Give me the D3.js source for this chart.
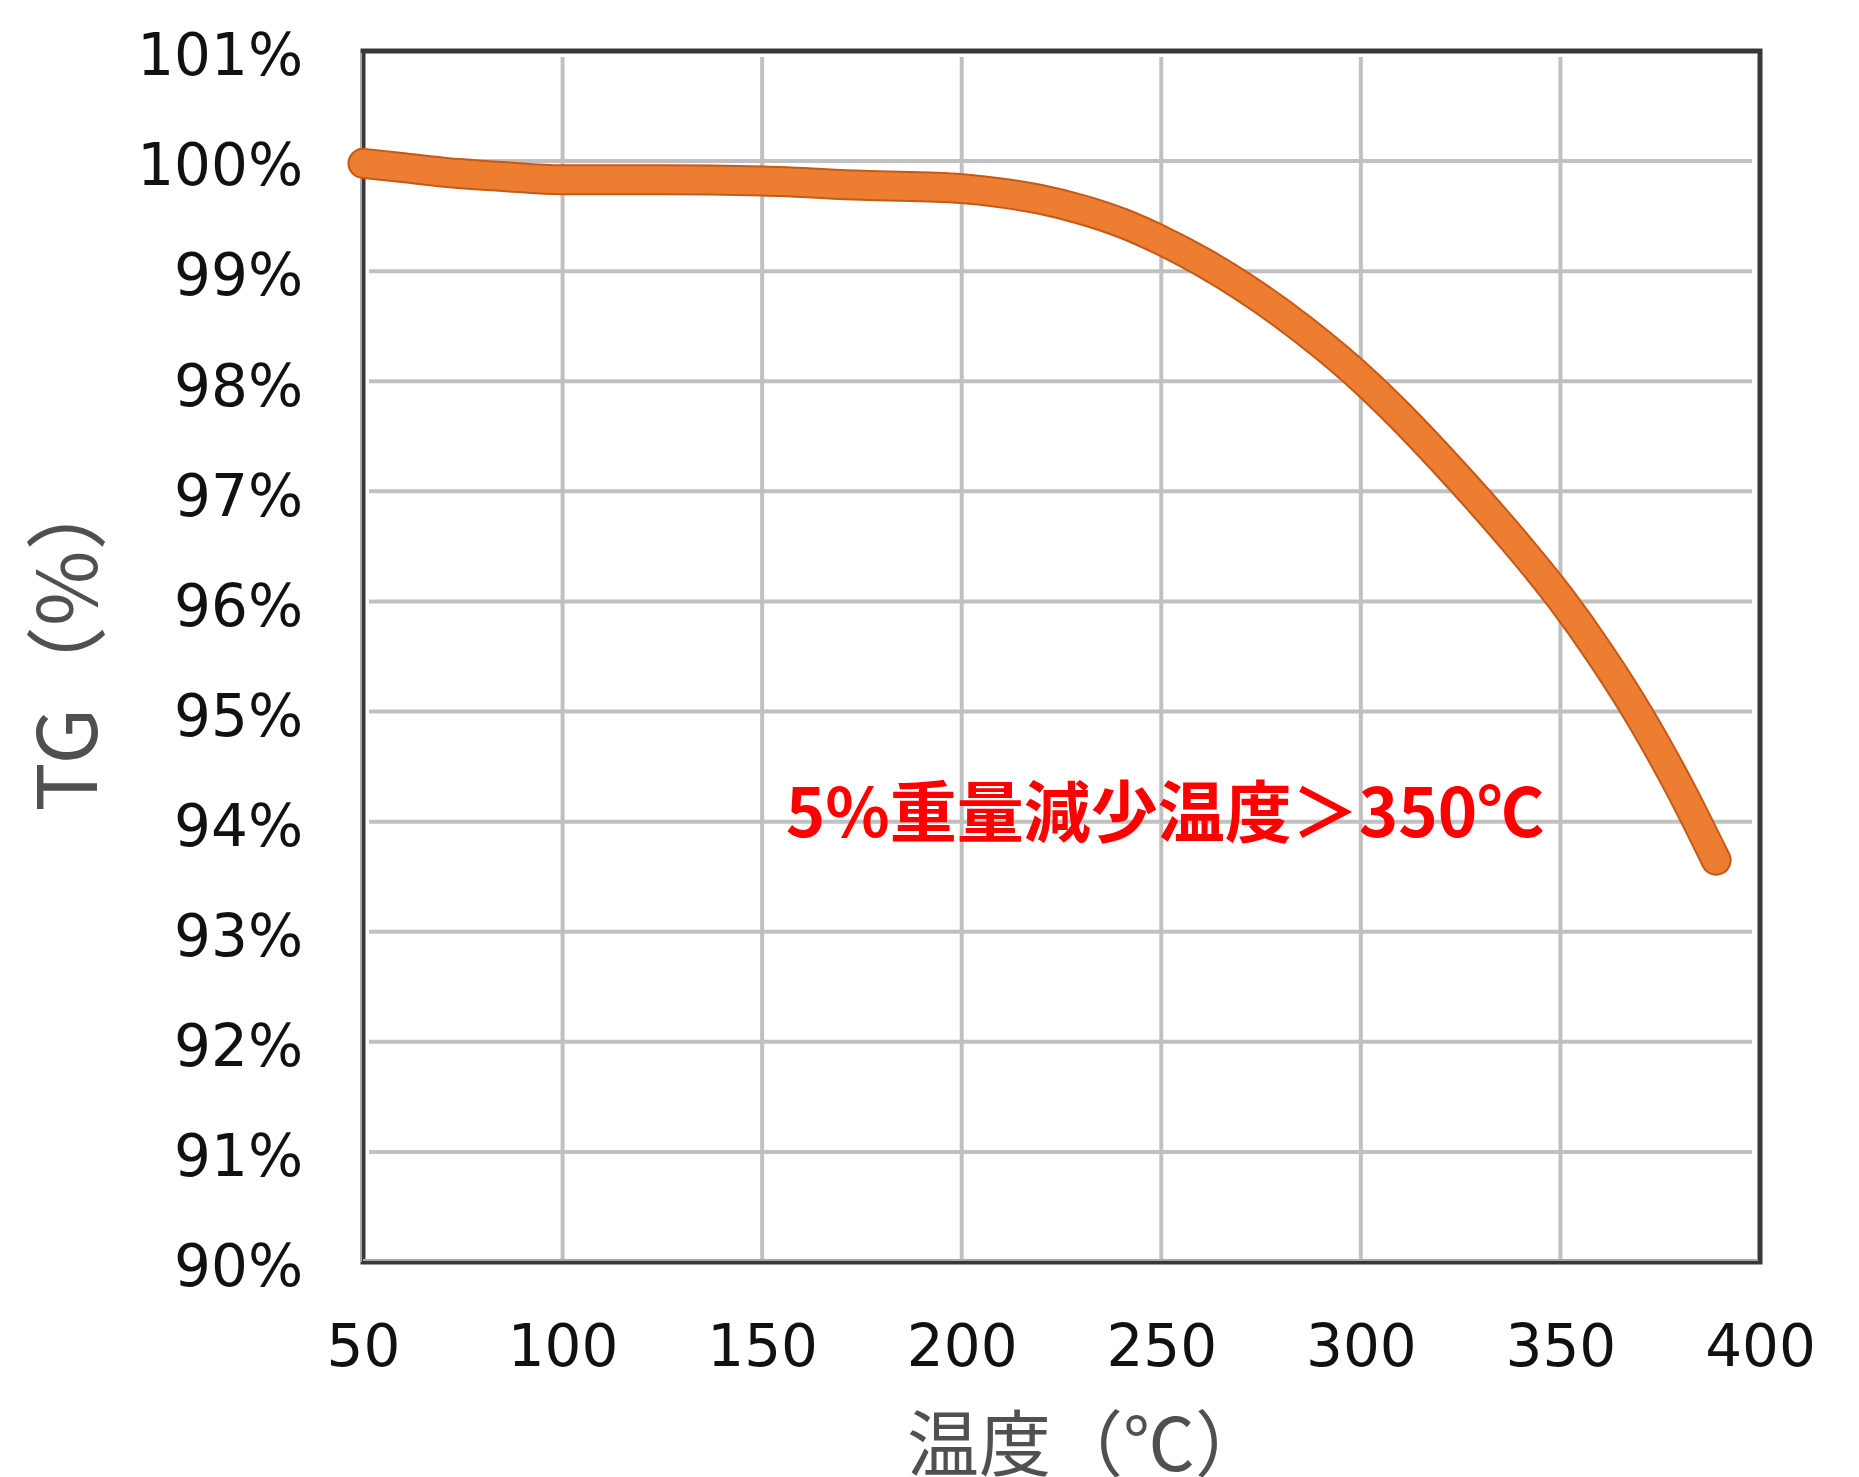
<!DOCTYPE html>
<html>
<head>
<meta charset="utf-8">
<script src="https://cdn.jsdelivr.net/npm/d3@7"></script>
<style>
  html, body { margin: 0; padding: 0; background: #ffffff; }
  svg { display: block; }
</style>
</head>
<body>
<svg id="chart" width="1859" height="1477"></svg>
<script>
// ---- data ----
const temps = [50, 60, 70, 85, 100, 125, 150, 175, 200, 210, 220, 230, 240, 250, 260, 270, 280, 290, 300, 310, 320, 330, 340, 350, 360, 370, 380, 389];
const tgValues = [99.98, 99.94, 99.90, 99.86, 99.83, 99.83, 99.82, 99.78, 99.75, 99.71, 99.65, 99.56, 99.44, 99.28, 99.09, 98.87, 98.62, 98.34, 98.03, 97.68, 97.30, 96.90, 96.48, 96.03, 95.52, 94.95, 94.30, 93.65];
const xTicks = [50, 100, 150, 200, 250, 300, 350, 400];
const yTicks = [90, 91, 92, 93, 94, 95, 96, 97, 98, 99, 100, 101];
const xTitle = "温度（℃）";
const yTitle = "TG（%）";
const annotation = "5%重量減少温度＞350℃";

// ---- layout ----
const L = 363, R = 1760, T = 51, B = 1262;
const svg = d3.select("#chart");
svg.append("rect").attr("width", 1859).attr("height", 1477).attr("fill", "#fff");

const x = d3.scaleLinear().domain([50, 400]).range([L, R]);
const y = d3.scaleLinear().domain([90, 101]).range([B, T]);

// grid
const grid = svg.append("g").attr("stroke", "#c0c0c0").attr("stroke-width", 4);
grid.selectAll("line.v").data(xTicks.slice(1, -1)).join("line")
  .attr("x1", d => x(d)).attr("x2", d => x(d))
  .attr("y1", T + 6).attr("y2", B - 3);
grid.selectAll("line.h").data(yTicks.slice(1, -1)).join("line")
  .attr("x1", L + 6).attr("x2", R - 8)
  .attr("y1", d => y(d)).attr("y2", d => y(d));

// frame
svg.append("rect")
  .attr("x", L).attr("y", T).attr("width", R - L).attr("height", B - T)
  .attr("fill", "none").attr("stroke", "#383838").attr("stroke-width", 5);
svg.append("line").attr("x1", L - 2).attr("x2", L - 2).attr("y1", T + 2).attr("y2", B)
  .attr("stroke", "#a8a8a8").attr("stroke-width", 2);
svg.append("line").attr("x1", L).attr("x2", R - 2).attr("y1", B - 2).attr("y2", B - 2)
  .attr("stroke", "#a8a8a8").attr("stroke-width", 2);

// axes (labels only)
const xAxis = svg.append("g").attr("transform", `translate(0,${B})`)
  .call(d3.axisBottom(x).tickValues(xTicks).tickFormat(d3.format("d")).tickSize(0).tickPadding(63));
const yAxis = svg.append("g").attr("transform", `translate(${L},0)`)
  .call(d3.axisLeft(y).tickValues(yTicks).tickFormat(d => d + "%").tickSize(0).tickPadding(60));
[xAxis, yAxis].forEach(g => {
  g.select(".domain").remove();
  g.selectAll("text")
    .attr("font-family", "'DejaVu Sans', Verdana, sans-serif")
    .attr("font-size", 58)
    .attr("fill", "#111");
});
yAxis.selectAll("text").attr("dy", "0.41em");

// curve
const line = d3.line().x((d, i) => x(temps[i])).y(d => y(d)).curve(d3.curveMonotoneX);
svg.append("path").datum(tgValues).attr("d", line)
  .attr("fill", "none").attr("stroke", "#c45a17").attr("stroke-width", 31)
  .attr("stroke-linecap", "round").attr("stroke-linejoin", "round");
svg.append("path").datum(tgValues).attr("d", line)
  .attr("fill", "none").attr("stroke", "#ed7d31").attr("stroke-width", 27)
  .attr("stroke-linecap", "round").attr("stroke-linejoin", "round");

// annotation
svg.append("text").attr("x", 1165).attr("y", 837)
  .attr("text-anchor", "middle")
  .attr("font-family", "'Noto Sans CJK JP', sans-serif")
  .attr("font-weight", "bold").attr("font-size", 67)
  .attr("fill", "#ff0000").text(annotation);

// axis titles
svg.append("text").attr("x", 1087).attr("y", 1470)
  .attr("text-anchor", "middle")
  .attr("font-family", "'Noto Sans CJK JP', sans-serif")
  .attr("font-size", 72).attr("fill", "#505050").text(xTitle);
svg.append("text")
  .attr("transform", `translate(97,640) rotate(-90)`)
  .attr("text-anchor", "middle")
  .attr("font-family", "'Noto Sans CJK JP', sans-serif")
  .attr("font-size", 82).attr("fill", "#505050").text(yTitle);
</script>
</body>
</html>
